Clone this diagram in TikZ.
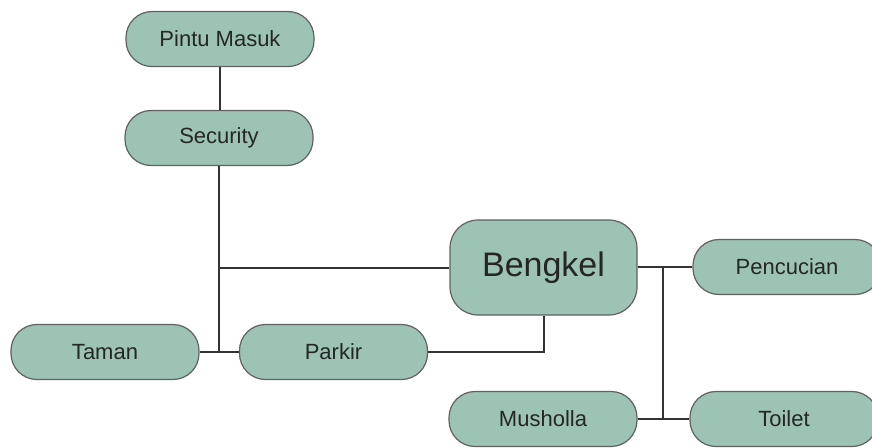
\documentclass[tikz,border=0pt]{standalone}
\usepackage{fontspec}
\setmainfont{Liberation Sans}
\begin{document}
\begin{tikzpicture}[x=1pt,y=-1pt,
  room/.style={draw=black!62, line width=1.2pt, fill=roomfill, rounded corners=26pt,
    minimum width=188pt, minimum height=55pt, inner sep=0pt, text=black!85,
    font=\fontsize{22}{26}\selectfont},
  bigroom/.style={room, minimum width=187pt, minimum height=95pt, rounded corners=28pt,
    font=\fontsize{34}{39}\selectfont},
  link/.style={draw=black!80, line width=2pt}]
\definecolor{roomfill}{HTML}{9CC3B3}
\useasboundingbox (0,0) rectangle (872,447);
\clip (0,0) rectangle (872,447);
% rooms
\node[room] (pintu) at (220,39) {Pintu Masuk};
\node[room] (security) at (219,138) {Security};
\node[bigroom] (bengkel) at (543.5,267.5) {Bengkel};
\node[room] (pencucian) at (787,267) {Pencucian};
\node[room] (taman) at (105,352) {Taman};
\node[room] (parkir) at (333.5,352) {Parkir};
\node[room] (musholla) at (543,419) {Musholla};
\node[room] (toilet) at (784,419) {Toilet};
% junction points
\coordinate (jsec) at (security.south |- taman.east);
\coordinate (jbeng) at (security.south |- bengkel.west);
\coordinate (jtop) at (663,267);
\coordinate (jbot) at (jtop |- musholla.east);
% connectors
\draw[link] (pintu.south) -- (pintu.south |- security.north);
\draw[link] (security.south) -- (jsec);
\draw[link] (jbeng) -- (bengkel.west);
\draw[link] (taman.east) -- (parkir.west);
\draw[link] (parkir.east) -| (bengkel.south);
\draw[link] (bengkel.east |- jtop) -- (pencucian.west |- jtop);
\draw[link] (jtop) -- (jbot);
\draw[link] (musholla.east) -- (toilet.west);
\end{tikzpicture}
\end{document}
